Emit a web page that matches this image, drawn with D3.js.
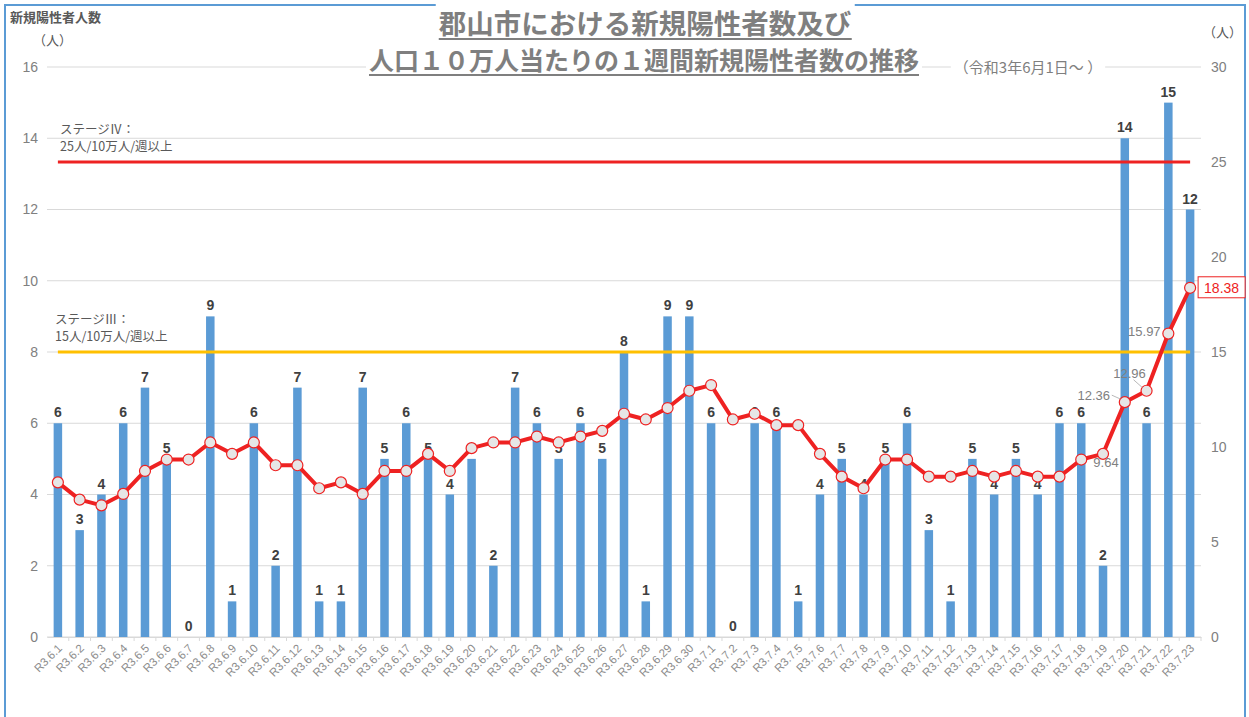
<!DOCTYPE html>
<html>
<head>
<meta charset="utf-8">
<script src="https://cdn.jsdelivr.net/npm/d3@7"></script>
<style>
  body { margin: 0; background: #fff; }
  svg { display: block; font-family: "Noto Sans CJK JP", "Noto Sans", sans-serif; }
</style>
</head>
<body>
<div id="main"></div>
<script>
// dates (x categories)
var dates = [
  'R3.6.1','R3.6.2','R3.6.3','R3.6.4','R3.6.5','R3.6.6','R3.6.7','R3.6.8','R3.6.9','R3.6.10',
  'R3.6.11','R3.6.12','R3.6.13','R3.6.14','R3.6.15','R3.6.16','R3.6.17','R3.6.18','R3.6.19','R3.6.20',
  'R3.6.21','R3.6.22','R3.6.23','R3.6.24','R3.6.25','R3.6.26','R3.6.27','R3.6.28','R3.6.29','R3.6.30',
  'R3.7.1','R3.7.2','R3.7.3','R3.7.4','R3.7.5','R3.7.6','R3.7.7','R3.7.8','R3.7.9','R3.7.10',
  'R3.7.11','R3.7.12','R3.7.13','R3.7.14','R3.7.15','R3.7.16','R3.7.17','R3.7.18','R3.7.19','R3.7.20',
  'R3.7.21','R3.7.22','R3.7.23'
];

// daily new positives (bars, left axis)
var newCases = [
  6, 3, 4, 6, 7, 5, 0, 9, 1, 6,
  2, 7, 1, 1, 7, 5, 6, 5, 4, 5,
  2, 7, 6, 5, 6, 5, 8, 1, 9, 9,
  6, 0, 6, 6, 1, 4, 5, 4, 5, 6,
  3, 1, 5, 4, 5, 4, 6, 6, 2, 14,
  6, 15, 12
];

// weekly new positives per 100k (line, right axis)
var weeklyPer100k = [
  8.14, 7.23, 6.93, 7.53, 8.74, 9.34, 9.34, 10.24, 9.64, 10.24,
  9.04, 9.04, 7.83, 8.14, 7.53, 8.74, 8.74, 9.64, 8.74, 9.94,
  10.24, 10.24, 10.55, 10.24, 10.55, 10.85, 11.75, 11.45, 12.05, 12.96,
  13.26, 11.45, 11.75, 11.15, 11.15, 9.64, 8.44, 7.83, 9.34, 9.34,
  8.44, 8.44, 8.74, 8.44, 8.74, 8.44, 8.44, 9.34, 9.64, 12.36,
  12.96, 15.97, 18.38
];

var leftTicks = [0, 2, 4, 6, 8, 10, 12, 14, 16];
var rightTicks = [0, 5, 10, 15, 20, 25, 30];

// stage thresholds (right axis)
var stageLevels = [25, 15];
var stageLabels = [['ステージⅣ：', '25人/10万人/週以上'], ['ステージⅢ：', '15人/10万人/週以上']];

// layout
var svgWidth = 1249;
var svgHeight = 717;
var plot = { l: 47, r: 1201, t: 67, b: 637 };

var svg = d3.select('#main').append('svg')
  .attr('width', svgWidth)
  .attr('height', svgHeight);

// outer blue frame
svg.append('rect')
  .attr('x', 5).attr('y', 5)
  .attr('width', 1240).attr('height', 730)
  .attr('fill', 'none')
  .attr('stroke', '#5b9bd5')
  .attr('stroke-width', 2);

var xScale = d3.scaleBand().domain(dates).range([plot.l, plot.r]);
var barW = 8.5;
var cx = (d) => xScale(d) + xScale.bandwidth() / 2;

var yLeft = d3.scaleLinear().domain([0, 16]).range([plot.b, plot.t]);
var yRight = d3.scaleLinear().domain([0, 30]).range([plot.b, plot.t]);

// gridlines
svg.append('g').selectAll('line')
  .data(leftTicks)
  .enter().append('line')
  .attr('x1', plot.l).attr('x2', plot.r)
  .attr('y1', (d) => yLeft(d)).attr('y2', (d) => yLeft(d))
  .attr('stroke', '#d9d9d9')
  .attr('stroke-width', 1);

// left axis
var yAxisL = d3.axisLeft(yLeft).tickValues(leftTicks).tickSize(0).tickPadding(9);
svg.append('g')
  .attr('transform', 'translate(' + plot.l + ',0)')
  .call(yAxisL)
  .call((g) => g.select('.domain').remove())
  .selectAll('text')
  .attr('fill', '#808080')
  .style('font-size', '14px')
  .style('font-family', '"Liberation Sans", Arial, sans-serif');

// right axis
var yAxisR = d3.axisRight(yRight).tickValues(rightTicks).tickSize(0).tickPadding(10);
svg.append('g')
  .attr('transform', 'translate(' + plot.r + ',0)')
  .call(yAxisR)
  .call((g) => g.select('.domain').remove())
  .selectAll('text')
  .attr('fill', '#808080')
  .style('font-size', '14px')
  .style('font-family', '"Liberation Sans", Arial, sans-serif');

// x axis
var xAxis = d3.axisBottom(xScale).tickSize(4).tickSizeOuter(0).tickFormat((d) => d);
var xG = svg.append('g')
  .attr('transform', 'translate(0,' + plot.b + ')')
  .call(xAxis);
xG.select('.domain').attr('stroke', '#d9d9d9');
xG.selectAll('.tick line').attr('stroke', '#d9d9d9')
  .attr('transform', 'translate(' + (xScale.bandwidth() / 2) + ',0)');
xG.selectAll('.tick text')
  .attr('fill', '#8c8c8c')
  .style('font-size', '11.5px')
  .style('font-family', '"Liberation Sans", Arial, sans-serif')
  .attr('text-anchor', 'end')
  .attr('dy', null)
  .attr('y', 0)
  .attr('transform', 'translate(5,12) rotate(-45)');

// bars
svg.append('g').selectAll('rect')
  .data(newCases)
  .enter().append('rect')
  .attr('x', (d, i) => cx(dates[i]) - barW / 2)
  .attr('y', (d) => yLeft(d))
  .attr('width', barW)
  .attr('height', (d) => yLeft(0) - yLeft(d))
  .attr('fill', '#5b9bd5');

// bar labels
svg.append('g').selectAll('text')
  .data(newCases)
  .enter().append('text')
  .attr('x', (d, i) => cx(dates[i]))
  .attr('y', (d) => yLeft(d) - 6)
  .attr('text-anchor', 'middle')
  .attr('fill', '#404040')
  .style('font-size', '14px')
  .style('font-weight', 'bold')
  .style('font-family', '"Liberation Sans", Arial, sans-serif')
  .text((d) => d);

// stage lines
var x0 = cx(dates[0]);
var x1 = cx(dates[dates.length - 1]);
var stageColors = ['#ee2222', '#ffc000'];
svg.append('g').selectAll('line')
  .data(stageLevels)
  .enter().append('line')
  .attr('x1', x0).attr('x2', x1)
  .attr('y1', (d) => yRight(d)).attr('y2', (d) => yRight(d))
  .attr('stroke', (d, i) => stageColors[i])
  .attr('stroke-width', 3);

// stage labels
var stageG = svg.append('g');
stageLabels.forEach((lines, i) => {
  var yBase = yRight(stageLevels[i]);
  var lx = i == 0 ? 60 : 55;
  stageG.append('text')
    .attr('x', lx).attr('y', yBase - 28)
    .attr('fill', '#595959')
    .style('font-size', '12.5px')
    .text(lines[0]);
  stageG.append('text')
    .attr('x', lx).attr('y', yBase - 11)
    .attr('fill', '#595959')
    .style('font-size', '12.5px')
    .text(lines[1]);
});

// line series
var line = d3.line()
  .x((d, i) => cx(dates[i]))
  .y((d) => yRight(d));

svg.append('path')
  .datum(weeklyPer100k)
  .attr('d', line)
  .attr('fill', 'none')
  .attr('stroke', '#ee2222')
  .attr('stroke-width', 4)
  .attr('stroke-linejoin', 'round');

svg.append('g').selectAll('circle')
  .data(weeklyPer100k)
  .enter().append('circle')
  .attr('cx', (d, i) => cx(dates[i]))
  .attr('cy', (d) => yRight(d))
  .attr('r', 5.5)
  .attr('fill', '#e6e6e6')
  .attr('stroke', '#ee2222')
  .attr('stroke-width', 1.2);

// line labels for the last days (offsets of label centre from the point)
var n = weeklyPer100k.length;
var lineLabels = [
  { i: n - 5, dx: 3, dy: 13, leader: false },
  { i: n - 4, dx: -31, dy: -2, leader: true },
  { i: n - 3, dx: -17, dy: -13, leader: true },
  { i: n - 2, dx: -24, dy: 2, leader: false }
];
var labelG = svg.append('g');
lineLabels.forEach((o) => {
  var px = cx(dates[o.i]);
  var py = yRight(weeklyPer100k[o.i]);
  labelG.append('text')
    .attr('x', px + o.dx).attr('y', py + o.dy)
    .attr('text-anchor', 'middle')
    .attr('fill', '#808080')
    .style('font-size', '13px')
    .style('font-family', '"Liberation Sans", Arial, sans-serif')
    .text(weeklyPer100k[o.i].toFixed(2));
  if (o.leader) {
    labelG.append('line')
      .attr('x1', px + o.dx + (o.dx < -20 ? 18 : 4)).attr('y1', py + o.dy - 5 + (o.dx < -20 ? 0 : 7))
      .attr('x2', px - 4).attr('y2', py - 3)
      .attr('stroke', '#a6a6a6')
      .attr('stroke-width', 0.8);
  }
});

// last value in red box
var lastX = cx(dates[n - 1]);
var lastY = yRight(weeklyPer100k[n - 1]);
labelG.append('rect')
  .attr('x', lastX + 8).attr('y', lastY - 11)
  .attr('width', 47).attr('height', 21)
  .attr('fill', '#fff')
  .attr('stroke', '#ee2222')
  .attr('stroke-width', 1);
labelG.append('text')
  .attr('x', lastX + 31.5).attr('y', lastY + 5)
  .attr('text-anchor', 'middle')
  .attr('fill', '#ee2222')
  .style('font-size', '14px')
  .style('font-family', '"Liberation Sans", Arial, sans-serif')
  .text(weeklyPer100k[n - 1].toFixed(2));

// titles (with white background hiding the gridline)
var titleG = svg.append('g');
function boxedText(x, y, txt, size, anchor, weight, underline) {
  var bg = titleG.append('rect').attr('fill', '#fff');
  var t = titleG.append('text')
    .attr('x', x).attr('y', y)
    .attr('text-anchor', anchor)
    .attr('fill', '#7f7f7f')
    .style('font-size', size + 'px')
    .style('font-weight', weight)
    .text(txt);
  var bb = t.node().getBBox();
  bg.attr('x', bb.x - 3).attr('y', bb.y).attr('width', bb.width + 6).attr('height', bb.height + 4);
  if (underline) {
    titleG.append('line')
      .attr('x1', bb.x).attr('x2', bb.x + bb.width)
      .attr('y1', y + 5).attr('y2', y + 5)
      .attr('stroke', '#7f7f7f')
      .attr('stroke-width', 2);
  }
}
boxedText(645, 34, '郡山市における新規陽性者数及び', 27.5, 'middle', 'bold', true);
boxedText(644, 70, '人口１０万人当たりの１週間新規陽性者数の推移', 25, 'middle', 'bold', true);
boxedText(1028, 73, '（令和3年6月1日～ ）', 15, 'middle', 'normal', false);

// axis titles
svg.append('text')
  .attr('x', 10).attr('y', 22)
  .attr('fill', '#595959')
  .style('font-size', '13px')
  .style('font-weight', 'bold')
  .text('新規陽性者人数');
svg.append('text')
  .attr('x', 33).attr('y', 45)
  .attr('fill', '#595959')
  .style('font-size', '13px')
  .text('（人）');
svg.append('text')
  .attr('x', 1203).attr('y', 37)
  .attr('fill', '#595959')
  .style('font-size', '13px')
  .text('（人）');
</script>
</body>
</html>
